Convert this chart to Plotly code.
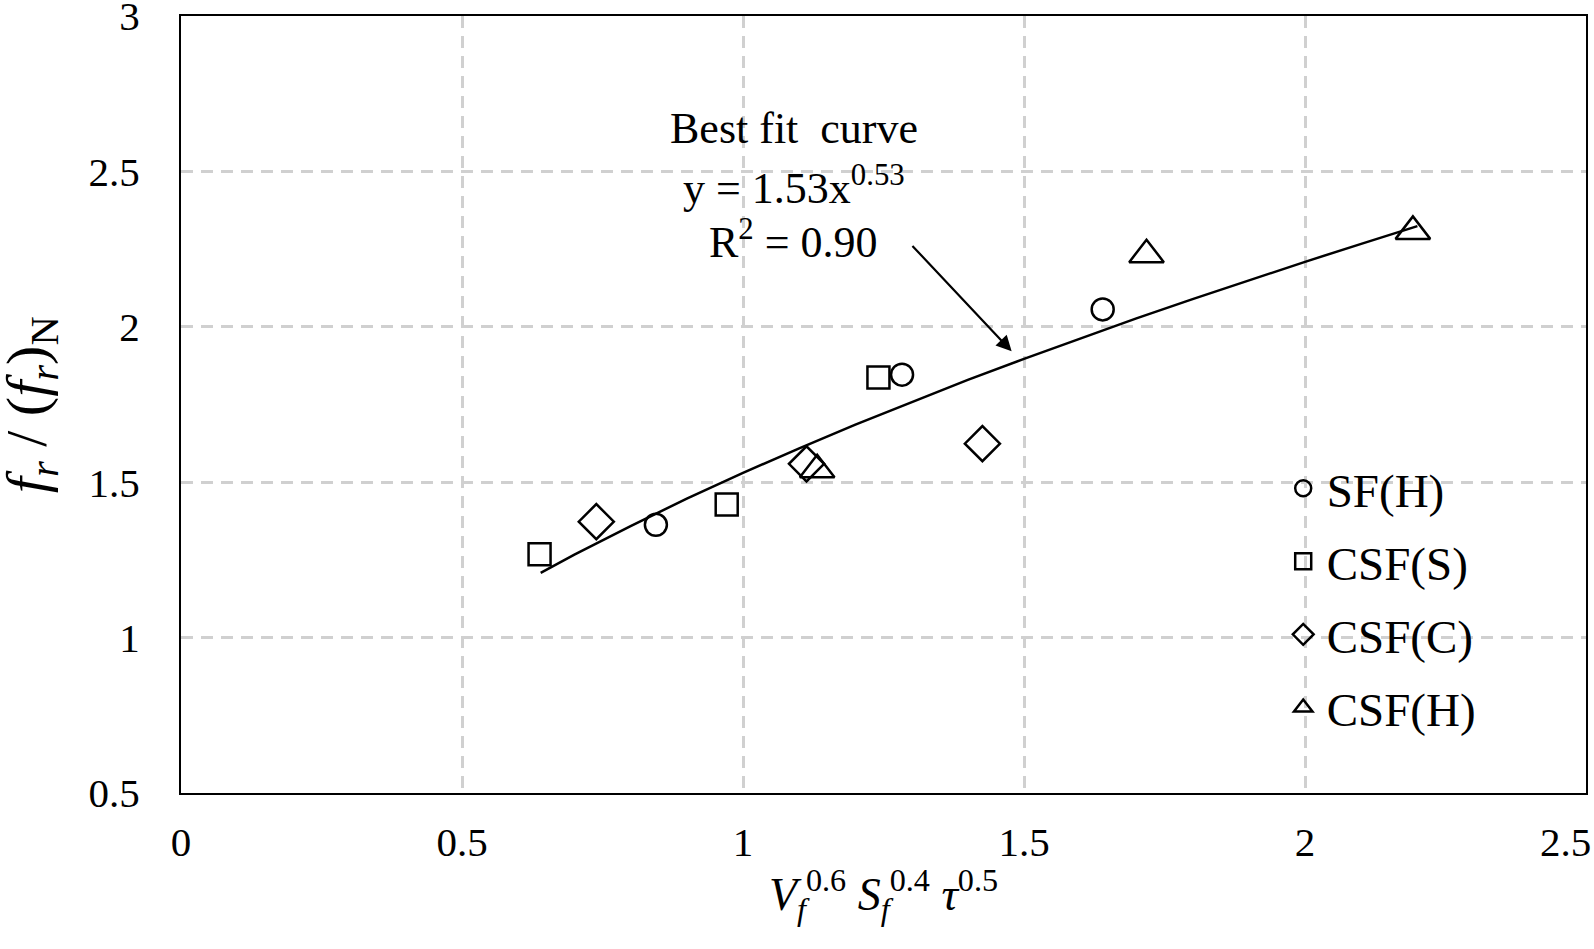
import plotly.graph_objects as go

# -----------------------------
# Data
# -----------------------------
sfh_x = [0.845, 1.283, 1.640]
sfh_y = [1.363, 1.846, 2.056]

csfs_x = [0.638, 0.971, 1.241]
csfs_y = [1.268, 1.428, 1.837]

csfc_x = [0.739, 1.113, 1.426]
csfc_y = [1.373, 1.559, 1.624]

csfh_x = [1.132, 1.718, 2.192]
csfh_y = [1.540, 2.232, 2.307]

# best fit curve (y = 1.53x^0.53)
fit_x = [0.64, 0.7, 0.8, 0.9, 1.0, 1.1, 1.2, 1.3, 1.4, 1.5, 1.6, 1.7, 1.8, 1.9, 2.0, 2.1, 2.2]
fit_y = [1.208, 1.267, 1.359, 1.447, 1.530, 1.609, 1.685, 1.758, 1.829, 1.897,
         1.963, 2.027, 2.089, 2.150, 2.209, 2.267, 2.324]

x_ticks = [0, 0.5, 1, 1.5, 2, 2.5]
x_labels = ["0", "0.5", "1", "1.5", "2", "2.5"]
y_ticks = [0.5, 1, 1.5, 2, 2.5, 3]
y_labels = ["0.5", "1", "1.5", "2", "2.5", "3"]

FONT = "Liberation Serif"

fig = go.Figure()

fig.add_trace(go.Scatter(
    x=fit_x, y=fit_y, mode="lines", line=dict(color="black", width=2.5),
    showlegend=False, hoverinfo="skip"
))

series = [
    ("SF(H)", sfh_x, sfh_y, "circle-open", 22),
    ("CSF(S)", csfs_x, csfs_y, "square-open", 22),
    ("CSF(C)", csfc_x, csfc_y, "diamond-open", 27),
    ("CSF(H)", csfh_x, csfh_y, "triangle-up-open", 30),
]
for name, xs, ys, sym, size in series:
    fig.add_trace(go.Scatter(
        x=xs, y=ys, mode="markers", name=name, legendgroup=name,
        marker=dict(symbol=sym, size=size, color="black", line=dict(width=2.5, color="black"))
    ))

# -----------------------------
# Annotation and arrow
# -----------------------------
for txt, yy in [("Best fit&nbsp;&nbsp;curve", 2.638),
                ("y = 1.53x<sup>0.53</sup>", 2.454),
                ("R<sup>2</sup> = 0.90", 2.28)]:
    fig.add_annotation(x=1.09, y=yy, text=txt, showarrow=False,
                       xanchor="center", yanchor="middle",
                       font=dict(family=FONT, size=44, color="black"))

fig.add_annotation(x=1.478, y=1.921, ax=1.299, ay=2.265,
                   xref="x", yref="y", axref="x", ayref="y", text="",
                   showarrow=True, arrowhead=2, arrowsize=1.4, arrowwidth=2.2,
                   arrowcolor="black")

# y axis title, placed by hand so it sits at the far left like the original
fig.add_annotation(x=-0.107, y=0.5, xref="paper", yref="paper",
                   text="<i>f<sub>r</sub></i> / (<i>f<sub>r</sub></i>)<sub>N</sub>",
                   textangle=-90, showarrow=False, xanchor="center", yanchor="middle",
                   font=dict(family=FONT, size=58, color="black"))

axis_common = dict(
    showline=True, linecolor="black", linewidth=2, mirror=True,
    showgrid=True, gridcolor="#d0d0d0", gridwidth=2.5, griddash="12px,8px",
    zeroline=False, ticks="", ticklabeloverflow="allow",
    tickfont=dict(family=FONT, size=41, color="black"),
)

# last x label sits at the right edge of the page, pad it so it stays inside
x_text = x_labels[:-1] + [x_labels[-1] + "&nbsp;" * 4]

fig.update_layout(
    width=1594, height=949,
    margin=dict(l=181, r=8, t=16, b=156),
    paper_bgcolor="white", plot_bgcolor="white",
    font=dict(family=FONT, color="black"),
    xaxis=dict(
        range=[0, 2.5], tickvals=x_ticks, ticktext=x_text,
        ticklabelstandoff=12, automargin="bottom",
        title=dict(text="<i>V</i><sub><i>f</i></sub><sup>0.6</sup> <i>S</i><sub><i>f</i></sub><sup>0.4</sup> <i>τ</i><sup>0.5</sup>",
                   font=dict(family=FONT, size=46), standoff=14),
        **axis_common
    ),
    yaxis=dict(
        range=[0.5, 3], tickvals=y_ticks, ticktext=y_labels,
        ticklabelstandoff=31, automargin=False,
        **axis_common
    ),
    legend=dict(
        x=0.782, y=0.44, xanchor="left", yanchor="top",
        bgcolor="rgba(0,0,0,0)", tracegroupgap=9, itemwidth=37,
        font=dict(family=FONT, size=47, color="black"),
    ),
)

# the page body has a default 8px margin; drop it so the figure fills the window
fig.write_html("out.html", config={"displayModeBar": False},
               post_script="document.body.style.margin='0';")
